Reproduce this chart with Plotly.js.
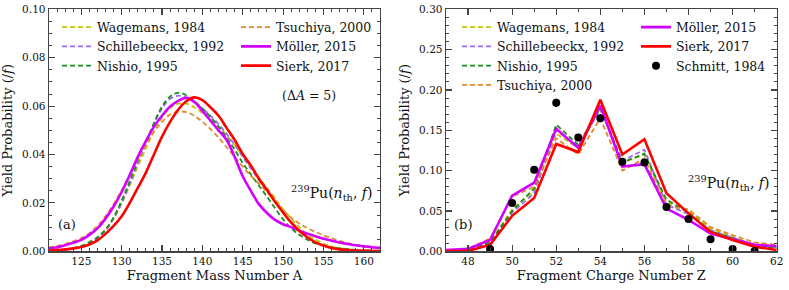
<!DOCTYPE html>
<html>
<head>
<meta charset="utf-8">
<script src="https://cdn.plot.ly/plotly-3.0.1.min.js"></script>
<style>html,body{margin:0;padding:0;background:#fff}#chart{width:789px;height:290px}</style>
</head>
<body>
<div id="chart"></div>
<script>
// ---------- Panel (a): mass yields ----------
const massA = [121,122,123,124,125,126,127,128,129,130,131,132,133,134,135,136,137,138,139,140,141,142,143,144,145,146,147,148,149,150,151,152,153,154,155,156,157,158,159,160,161,162];

const massWagemans = [0.0003,0.0005,0.0008,0.0013,0.0021,0.0035,0.0056,0.0088,0.0135,0.0198,0.0272,0.0350,0.0425,0.0495,0.0553,0.0592,0.0610,0.0610,0.0595,0.0572,0.0545,0.0515,0.0480,0.0440,0.0395,0.0350,0.0305,0.0262,0.0218,0.0175,0.0135,0.0100,0.0070,0.0048,0.0032,0.0020,0.0013,0.0008,0.0005,0.0003,0.0002,0.0002];
const massSchillebeeckx = [0.0002,0.0004,0.0007,0.0011,0.0019,0.0033,0.0053,0.0085,0.0135,0.0200,0.0280,0.0365,0.0445,0.0525,0.0590,0.0630,0.0643,0.0635,0.0615,0.0590,0.0560,0.0525,0.0485,0.0440,0.0390,0.0342,0.0295,0.0250,0.0205,0.0160,0.0120,0.0085,0.0058,0.0038,0.0025,0.0016,0.0010,0.0007,0.0005,0.0003,0.0002,0.0002];
const massNishio = [0.0002,0.0004,0.0007,0.0012,0.0022,0.0038,0.0058,0.0090,0.0140,0.0210,0.0290,0.0375,0.0450,0.0530,0.0598,0.0640,0.0655,0.0645,0.0620,0.0590,0.0555,0.0515,0.0470,0.0420,0.0365,0.0318,0.0272,0.0226,0.0178,0.0132,0.0095,0.0068,0.0048,0.0033,0.0023,0.0016,0.0012,0.0008,0.0006,0.0004,0.0003,0.0002];
const massTsuchiya = [0.0016,0.0022,0.0030,0.0041,0.0055,0.0075,0.0105,0.0145,0.0195,0.0253,0.0315,0.0380,0.0440,0.0495,0.0535,0.0565,0.0577,0.0575,0.0560,0.0535,0.0505,0.0470,0.0430,0.0390,0.0350,0.0312,0.0280,0.0245,0.0205,0.0170,0.0138,0.0115,0.0096,0.0080,0.0066,0.0054,0.0043,0.0034,0.0026,0.0020,0.0015,0.0012];
const massMoller = [0.0012,0.0017,0.0025,0.0035,0.0047,0.0068,0.0095,0.0135,0.0185,0.0245,0.0315,0.0390,0.0455,0.0515,0.0560,0.0598,0.0622,0.0634,0.0618,0.0580,0.0540,0.0500,0.0460,0.0390,0.0310,0.0250,0.0195,0.0158,0.0130,0.0112,0.0100,0.0085,0.0073,0.0062,0.0052,0.0044,0.0036,0.0030,0.0025,0.0021,0.0017,0.0014];
const massSierk = [0.0003,0.0005,0.0008,0.0012,0.0018,0.0028,0.0045,0.0072,0.0105,0.0145,0.0200,0.0262,0.0325,0.0400,0.0474,0.0535,0.0585,0.0620,0.0636,0.0625,0.0595,0.0560,0.0510,0.0460,0.0402,0.0355,0.0300,0.0253,0.0205,0.0160,0.0118,0.0085,0.0058,0.0037,0.0024,0.0014,0.0008,0.0005,0.0003,0.0002,0.0001,0.0001];

// ---------- Panel (b): charge yields ----------
const chargeZ = [47,48,49,50,51,52,53,54,55,56,57,58,59,60,61,62];
const chargeWagemans = [0.0005,0.002,0.012,0.052,0.075,0.146,0.128,0.178,0.110,0.120,0.060,0.050,0.028,0.018,0.008,0.005];
const chargeSchillebeeckx = [0.0005,0.002,0.010,0.048,0.072,0.150,0.130,0.176,0.112,0.126,0.058,0.046,0.026,0.017,0.008,0.005];
const chargeNishio = [0.0005,0.002,0.011,0.050,0.078,0.157,0.132,0.178,0.110,0.121,0.064,0.048,0.025,0.016,0.007,0.004];
const chargeTsuchiya = [0.001,0.003,0.016,0.068,0.080,0.140,0.120,0.165,0.100,0.115,0.056,0.052,0.030,0.020,0.011,0.008];
const chargeMoller = [0.0016,0.003,0.014,0.069,0.085,0.152,0.128,0.181,0.105,0.108,0.053,0.039,0.022,0.015,0.008,0.0066];
const chargeSierk = [0.0,0.0005,0.008,0.044,0.066,0.133,0.123,0.188,0.120,0.139,0.072,0.047,0.024,0.014,0.0057,0.0016];

const schmittZ = [49,50,51,52,53,54,55,56,57,58,59,60,61];
const schmittY = [0.003,0.060,0.101,0.184,0.141,0.165,0.111,0.110,0.055,0.040,0.015,0.003,0.0003];
const schmittErr = [0.001,0.003,0.004,0.005,0.004,0.005,0.004,0.004,0.003,0.002,0.002,0.001,0.001];

// ---------- styles ----------
const FONT = 'DejaVu Serif';
const C = {wag:'#c4c400', sch:'#9a6af0', nis:'#1e8c1e', tsu:'#e08a30', mol:'#d400ff', sie:'#ff0000'};
const dashed = (color)=>({color:color, width:1.8, dash:'5px,3px'});

function panelTraces(x, series, xa, ya, shape) {
  return series.map((s)=>({
    x:x, y:s.y, xaxis:xa, yaxis:ya, mode:'lines', name:s.name,
    line: Object.assign({shape:shape}, s.solid ? {color:s.color, width:2.6} : dashed(s.color)),
    legend: s.leg, hoverinfo:'skip'
  }));
}

const traces = [];
traces.push(...panelTraces(massA, [
  {name:'Wagemans, 1984', y:massWagemans, color:C.wag, leg:'legend'},
  {name:'Schillebeeckx, 1992', y:massSchillebeeckx, color:C.sch, leg:'legend'},
  {name:'Nishio, 1995', y:massNishio, color:C.nis, leg:'legend'},
  {name:'Tsuchiya, 2000', y:massTsuchiya, color:C.tsu, leg:'legend2'},
  {name:'Möller, 2015', y:massMoller, color:C.mol, solid:true, leg:'legend2'},
  {name:'Sierk, 2017', y:massSierk, color:C.sie, solid:true, leg:'legend2'}
], 'x', 'y', 'spline'));
traces.push(...panelTraces(chargeZ, [
  {name:'Wagemans, 1984', y:chargeWagemans, color:C.wag, leg:'legend3'},
  {name:'Schillebeeckx, 1992', y:chargeSchillebeeckx, color:C.sch, leg:'legend3'},
  {name:'Nishio, 1995', y:chargeNishio, color:C.nis, leg:'legend3'},
  {name:'Tsuchiya, 2000', y:chargeTsuchiya, color:C.tsu, leg:'legend3'},
  {name:'Möller, 2015', y:chargeMoller, color:C.mol, solid:true, leg:'legend4'},
  {name:'Sierk, 2017', y:chargeSierk, color:C.sie, solid:true, leg:'legend4'}
], 'x2', 'y2', 'linear'));
traces.push({
  x:schmittZ, y:schmittY, xaxis:'x2', yaxis:'y2', mode:'markers', name:'Schmitt, 1984',
  marker:{color:'black', size:8},
  error_y:{type:'data', array:schmittErr, color:'black', thickness:1.5, width:0},
  legend:'legend4', hoverinfo:'skip'
});

const W = 789, H = 290;
const yDom = [(H-251.3)/H, (H-9.3)/H];
const axisBase = {
  showline:true, linecolor:'#444', linewidth:1.4, mirror:'allticks',
  ticks:'inside', ticklen:6, tickwidth:1.1, tickcolor:'#444',
  showgrid:false, zeroline:false,
  tickfont:{family:FONT, size:10.5, color:'#111'}
};
function ax(extra){ return Object.assign({}, JSON.parse(JSON.stringify(axisBase)), extra); }
const minorT = (d)=>({dtick:d, ticklen:3, ticks:'inside', tickcolor:'#444', tickwidth:1});
const titleFont = {family:FONT, size:13, color:'#111'};

const legBase = (x)=>({
  x:x, y:1-12.5/H, xref:'paper', yref:'paper', xanchor:'left', yanchor:'top',
  orientation:'v', bgcolor:'rgba(0,0,0,0)', borderwidth:0, traceorder:'normal',
  font:{family:FONT, size:12.5, color:'#111'}, itemclick:false
});

const layout = {
  width:W, height:H, margin:{l:0,r:0,t:0,b:0},
  paper_bgcolor:'#fff', plot_bgcolor:'#fff', showlegend:true,
  xaxis: ax({domain:[49/W, 380/W], range:[121,162], dtick:5, tick0:120, minor:minorT(1),
    title:{text:'Fragment Mass Number A', font:titleFont, standoff:4}, anchor:'y'}),
  yaxis: ax({domain:yDom, range:[0,0.10], dtick:0.02, tickformat:'.2f', minor:minorT(0.005),
    title:{text:'Yield Probability (/<i>f</i>)', font:titleFont, standoff:6}, anchor:'x'}),
  xaxis2: ax({domain:[446/W, 776.7/W], range:[47,62], dtick:2, tick0:48, minor:minorT(1),
    title:{text:'Fragment Charge Number Z', font:titleFont, standoff:4}, anchor:'y2'}),
  yaxis2: ax({domain:yDom, range:[0,0.30], dtick:0.05, tickformat:'.2f', minor:minorT(0.01),
    title:{text:'Yield Probability (/<i>f</i>)', font:titleFont, standoff:6}, anchor:'x2'}),
  legend: legBase(57/W),
  legend2: legBase(236/W),
  legend3: legBase(457/W),
  legend4: legBase(636/W),
  annotations:[
    {xref:'paper', yref:'paper', x:56/W, xanchor:'left', y:1-234/H, text:'(a)', showarrow:false, font:{family:FONT,size:13,color:'#111'}},
    {xref:'paper', yref:'paper', x:452/W, xanchor:'left', y:1-234/H, text:'(b)', showarrow:false, font:{family:FONT,size:13,color:'#111'}},
    {xref:'paper', yref:'paper', x:309/W, y:1-86/H, text:'(Δ<i>A</i> = 5)', showarrow:false, font:{family:FONT,size:12.5,color:'#111'}},
    {xref:'paper', yref:'paper', x:374/W, y:1-193/H, xanchor:'right', text:'<sup>239</sup>Pu(<i>n</i><sub>th</sub>, <i>f</i>)', showarrow:false, font:{family:FONT,size:14,color:'#111'}},
    {xref:'paper', yref:'paper', x:771/W, y:1-195/H, xanchor:'right', text:'<sup>239</sup>Pu(<i>n</i><sub>th</sub>, <i>f</i>)', showarrow:false, font:{family:FONT,size:14,color:'#111'}}
  ]
};

Plotly.newPlot('chart', traces, layout, {staticPlot:true, displayModeBar:false});
</script>
</body>
</html>
